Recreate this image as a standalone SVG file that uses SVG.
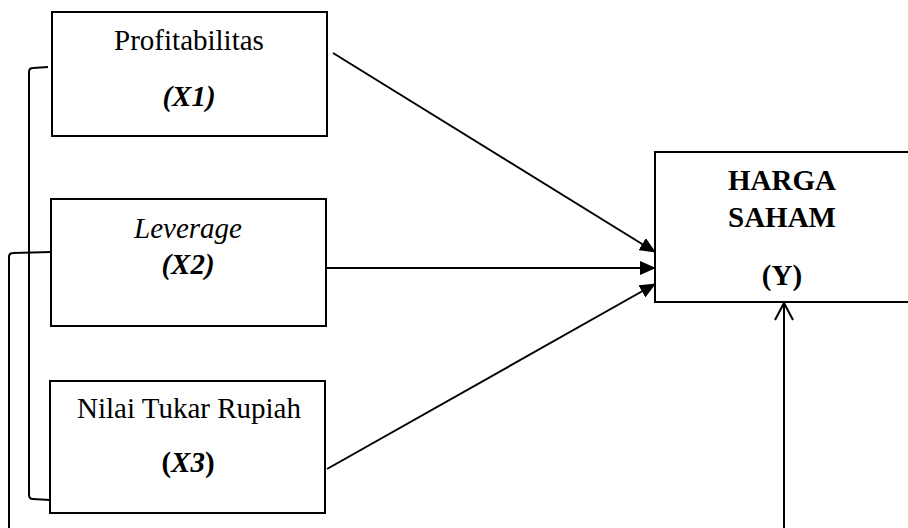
<svg xmlns="http://www.w3.org/2000/svg" width="908" height="528" viewBox="0 0 908 528">
<style>
.box{fill:#fff;stroke:#000;stroke-width:2}
.ln{fill:none;stroke:#000;stroke-width:2}
text{font-family:'Liberation Serif','Times New Roman','DejaVu Serif',serif;font-size:29px;fill:#000;text-anchor:middle}
.b{font-weight:bold}
.i{font-style:italic}
</style>
<defs>
<marker id="fa" markerWidth="16" markerHeight="14" refX="15" refY="7" orient="auto" markerUnits="userSpaceOnUse">
<path d="M0,0 L16,7 L0,14 Z" fill="#000"/>
</marker>
</defs>
<rect width="908" height="528" fill="#fff"/>
<g id="x1">
<rect class="box" x="52" y="12" width="275" height="124"/>
<text x="189" y="50">Profitabilitas</text>
<text x="189" y="106" class="b i">(X1)</text>
</g>
<g id="x2">
<rect class="box" x="51" y="199" width="275" height="127"/>
<text x="188" y="238" class="i">Leverage</text>
<text x="188" y="274" class="b i">(X2)</text>
</g>
<g id="x3">
<rect class="box" x="50" y="381" width="275" height="132"/>
<text x="189" y="418">Nilai Tukar Rupiah</text>
<text x="188" y="472" class="b">(<tspan class="i">X3</tspan>)</text>
</g>
<g id="y">
<rect class="box" x="655" y="152" width="270" height="150"/>
<text x="782" y="190" class="b">HARGA</text>
<text x="782" y="227" class="b">SAHAM</text>
<text x="782" y="285" class="b">(Y)</text>
</g>
<g id="connectors">
<line class="ln" x1="333" y1="53" x2="655" y2="252" marker-end="url(#fa)"/>
<line class="ln" x1="326" y1="268" x2="655" y2="268" marker-end="url(#fa)"/>
<line class="ln" x1="327" y1="469" x2="655" y2="284" marker-end="url(#fa)"/>
<line class="ln" x1="784" y1="303" x2="784" y2="528"/>
<path class="ln" d="M775,320 L784,303 L793,320"/>
<path class="ln" d="M48,67 L33,68 Q29,68 29,72 L29,495 Q29,499 33,499 L50,500"/>
<path class="ln" d="M51,252 L13,253 Q9,253 9,257 L9,528"/>
</g>
</svg>
